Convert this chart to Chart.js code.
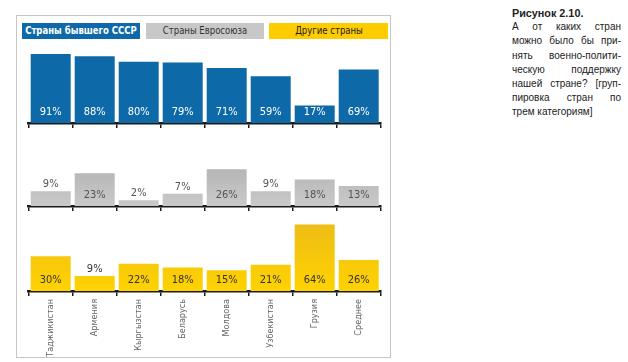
<!DOCTYPE html>
<html><head><meta charset="utf-8">
<script src="https://cdn.jsdelivr.net/npm/chart.js@4.4.1/dist/chart.umd.min.js"></script>
<style>
html,body{margin:0;padding:0}
body{width:628px;height:362px;background:#fff;position:relative;overflow:hidden;font-family:"DejaVu Sans Condensed","DejaVu Sans",sans-serif}
#frame{position:absolute;left:16px;top:15px;width:375px;height:343px;border:1px solid #c6c6c6;box-sizing:border-box}
.lg{position:absolute;top:23px;height:16px;font-size:11px}
.lg span{position:absolute;left:50%;top:0;line-height:16px;white-space:nowrap;transform:translateX(-50%) scaleX(0.86)}
#lg1{left:22px;width:118px;background:#0d69aa;color:#fff;font-weight:bold}
#lg2{left:146px;width:118px;background:#c8c8c8;color:#333}
#lg3{left:269px;width:119px;background:#ffcc00;color:#222}
.cw{position:absolute;left:20px;width:370px}
#c1w{top:45px;height:84px}
#c2w{top:150px;height:62px}
#c3w{top:215px;height:142px}
#note{position:absolute;left:512px;top:6px;width:109px;font-family:"Liberation Sans",Arial,sans-serif;font-size:10px;line-height:14.2px;color:#222}
#note .t{font-weight:bold;font-size:10.8px}
#note .j{text-align:justify;text-align-last:justify}
</style></head>
<body>
<div id="frame"></div>
<div class="lg" id="lg1"><span>Страны бывшего СССР</span></div>
<div class="lg" id="lg2"><span>Страны Евросоюза</span></div>
<div class="lg" id="lg3"><span>Другие страны</span></div>
<div class="cw" id="c1w"><canvas id="c1"></canvas></div>
<div class="cw" id="c2w"><canvas id="c2"></canvas></div>
<div class="cw" id="c3w"><canvas id="c3"></canvas></div>
<div id="note">
<div class="t">Рисунок 2.10.</div>
<div class="j">А от каких стран</div>
<div class="j">можно было бы при-</div>
<div class="j">нять военно-полити-</div>
<div class="j">ческую поддержку</div>
<div class="j">нашей стране? [груп-</div>
<div class="j">пировка стран по</div>
<div>трем категориям]</div>
</div>
<script>
const categories = ["Таджикистан","Армения","Кыргызстан","Беларусь","Молдова","Узбекистан","Грузия","Среднее"];
const formerUSSR = [91, 88, 80, 79, 71, 59, 17, 69];
const euCountries = [9, 23, 2, 7, 26, 9, 18, 13];
const otherCountries = [30, 9, 22, 18, 15, 21, 64, 26];

const FONT = '"DejaVu Sans Condensed","DejaVu Sans",sans-serif';

const valueLabels = {
  id: 'valueLabels',
  afterDatasetsDraw(chart, args, o) {
    const ctx = chart.ctx;
    const meta = chart.getDatasetMeta(0);
    const data = chart.data.datasets[0].data;
    ctx.save();
    ctx.font = '11px ' + FONT;
    ctx.textAlign = 'center';
    ctx.textBaseline = 'middle';
    meta.data.forEach((bar, i) => {
      const h = bar.base - bar.y;
      let y, c;
      if (h >= o.minInside) { y = bar.base - 11; c = o.inColor; }
      else { y = bar.y - 7; c = o.outColor; }
      ctx.fillStyle = c;
      ctx.fillText(data[i] + '%', bar.x, y);
    });
    ctx.restore();
  }
};

function grad(top, bottom) {
  return (ctx) => {
    const ca = ctx.chart.chartArea;
    if (!ca) return bottom;
    const g = ctx.chart.ctx.createLinearGradient(0, ca.top, 0, ca.bottom);
    g.addColorStop(0, top); g.addColorStop(1, bottom);
    return g;
  };
}

function makeChart(id, values, color, min, max, axisH, showLabels, lbl) {
  return new Chart(document.getElementById(id), {
    type: 'bar',
    data: { labels: categories, datasets: [{ data: values, backgroundColor: color, base: min,
      categoryPercentage: 1, barPercentage: 40/44, borderWidth: 0 }] },
    plugins: [valueLabels],
    options: {
      responsive: true, maintainAspectRatio: false, animation: false,
      layout: { padding: { left: 8.7, right: 9.3, top: 0, bottom: 0 } },
      plugins: { legend: { display: false }, tooltip: { enabled: false }, valueLabels: lbl },
      scales: {
        y: { display: false, min: min, max: max },
        x: {
          afterFit: (s) => { s.height = axisH; },
          border: { display: true, color: '#1a1a1a', width: 2.5 },
          grid: { offset: true, drawOnChartArea: false, drawTicks: true, tickLength: 5, color: '#1a1a1a', lineWidth: 1.5 },
          ticks: { display: showLabels, minRotation: 90, maxRotation: 90, padding: 3, color: '#666',
                   font: { family: FONT, size: 9 } }
        }
      }
    }
  });
}

makeChart('c1', formerUSSR, '#0e69a8', -8, 104, 6, false, { minInside: 0, inColor: '#ffffff', outColor: '#ffffff' });
makeChart('c2', euCountries, grad('#acacac', '#c9c9c9'), -2.5, 41, 6, false, { minInside: 18, inColor: '#555555', outColor: '#555555' });
makeChart('c3', otherCountries, grad('#ebbb19', '#ffd200'), -7, 74, 66, true, { minInside: 18, inColor: '#333333', outColor: '#333333' });
</script>
</body></html>
